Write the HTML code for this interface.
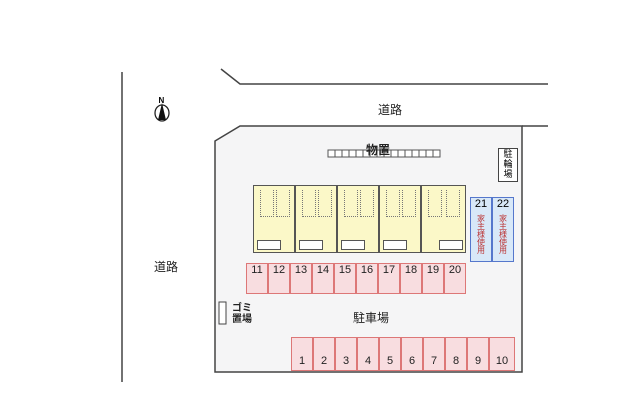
<!DOCTYPE html>
<html><head><meta charset="utf-8"><style>
body{margin:0;background:#fff;width:640px;height:411px;overflow:hidden;position:relative;font-family:"Liberation Sans","Noto Sans CJK JP",sans-serif}
.a{position:absolute}
.t{position:absolute;font-size:11px;color:#222;white-space:nowrap}
.u{position:absolute;top:185px;height:68px;width:42px;background:#fbf8c8;border:1px solid #555;box-sizing:border-box}
.u i{position:absolute;bottom:2px;width:22px;height:8px;background:#fff;border:1px solid #555}
.u b{position:absolute;top:4px;width:12px;height:26px;border:1px dotted #777;border-top:none}
.p{position:absolute;width:22px;background:#f8dde0;border:1px solid #d77;box-sizing:border-box;font-size:11px;text-align:center;color:#222}
.b{position:absolute;top:197px;height:65px;width:22px;background:#d8e8f8;border:1px solid #5577cc;box-sizing:border-box;text-align:center;font-size:11px}
.b span{display:block;writing-mode:vertical-rl;font-size:8px;color:#b33;margin:4px auto 0}
</style></head><body>
<svg class="a" style="left:0;top:0" width="640" height="411">
<line x1="122" y1="72" x2="122" y2="382" stroke="#444" stroke-width="1.5"/>
<polyline points="221,69 240,84 548,84" fill="none" stroke="#444" stroke-width="1.5"/>
<polygon points="215,141 240,126 522,126 522,372 215,372" fill="#f5f5f6" stroke="#444" stroke-width="1.5"/>
<line x1="522" y1="126" x2="548" y2="126" stroke="#444" stroke-width="1.5"/>
<ellipse cx="162" cy="113" rx="7" ry="8" fill="#fff" stroke="#222" stroke-width="1.3"/>
<polygon points="162,103 158,120 166,120" fill="#111"/>
<text x="158.5" y="103" font-size="8" font-family="Liberation Sans" font-weight="bold">N</text>
<rect x="328" y="150" width="112" height="7" fill="#fff" stroke="#555"/>
<g stroke="#555">
<line x1="335" y1="150" x2="335" y2="157"/><line x1="342" y1="150" x2="342" y2="157"/><line x1="349" y1="150" x2="349" y2="157"/><line x1="356" y1="150" x2="356" y2="157"/><line x1="363" y1="150" x2="363" y2="157"/><line x1="370" y1="150" x2="370" y2="157"/><line x1="377" y1="150" x2="377" y2="157"/><line x1="384" y1="150" x2="384" y2="157"/><line x1="391" y1="150" x2="391" y2="157"/><line x1="398" y1="150" x2="398" y2="157"/><line x1="405" y1="150" x2="405" y2="157"/><line x1="412" y1="150" x2="412" y2="157"/><line x1="419" y1="150" x2="419" y2="157"/><line x1="426" y1="150" x2="426" y2="157"/><line x1="433" y1="150" x2="433" y2="157"/>
</g>
<rect x="219" y="302" width="7" height="22" fill="#fff" stroke="#444"/>
</svg>
<div class="t" style="left:378px;top:101px;font-size:12px">道路</div>
<div class="t" style="left:154px;top:258px;font-size:12px">道路</div>
<div class="t" style="left:366px;top:141px;font-weight:bold;font-size:12px">物置</div>
<div class="a" style="left:498px;top:148px;width:18px;height:32px;border:1px solid #444;background:#fff;font-size:9px;line-height:10px;text-align:center">駐<br>輪<br>場</div>
<div class="u" style="left:253px"><b style="left:6px"></b><b style="left:22px"></b><i style="left:3px"></i></div>
<div class="u" style="left:295px"><b style="left:6px"></b><b style="left:22px"></b><i style="left:3px"></i></div>
<div class="u" style="left:337px"><b style="left:6px"></b><b style="left:22px"></b><i style="left:3px"></i></div>
<div class="u" style="left:379px"><b style="left:6px"></b><b style="left:22px"></b><i style="left:3px"></i></div>
<div class="u" style="left:421px;width:45px"><b style="left:6px"></b><b style="left:24px"></b><i style="right:2px"></i></div>
<div class="b" style="left:470px">21<span>家主様使用</span></div>
<div class="b" style="left:492px">22<span>家主様使用</span></div>
<div class="p" style="left:246px;top:263px;height:31px">11</div>
<div class="p" style="left:268px;top:263px;height:31px">12</div>
<div class="p" style="left:290px;top:263px;height:31px">13</div>
<div class="p" style="left:312px;top:263px;height:31px">14</div>
<div class="p" style="left:334px;top:263px;height:31px">15</div>
<div class="p" style="left:356px;top:263px;height:31px">16</div>
<div class="p" style="left:378px;top:263px;height:31px">17</div>
<div class="p" style="left:400px;top:263px;height:31px">18</div>
<div class="p" style="left:422px;top:263px;height:31px">19</div>
<div class="p" style="left:444px;top:263px;height:31px">20</div>
<div class="p" style="left:291px;top:337px;height:34px;padding-top:17px">1</div>
<div class="p" style="left:313px;top:337px;height:34px;padding-top:17px">2</div>
<div class="p" style="left:335px;top:337px;height:34px;padding-top:17px">3</div>
<div class="p" style="left:357px;top:337px;height:34px;padding-top:17px">4</div>
<div class="p" style="left:379px;top:337px;height:34px;padding-top:17px">5</div>
<div class="p" style="left:401px;top:337px;height:34px;padding-top:17px">6</div>
<div class="p" style="left:423px;top:337px;height:34px;padding-top:17px">7</div>
<div class="p" style="left:445px;top:337px;height:34px;padding-top:17px">8</div>
<div class="p" style="left:467px;top:337px;height:34px;padding-top:17px">9</div>
<div class="p" style="left:489px;top:337px;height:34px;width:26px;padding-top:17px">10</div>
<div class="t" style="left:232px;top:303px;font-size:10px;line-height:11px;font-weight:bold">ゴミ<br>置場</div>
<div class="t" style="left:353px;top:309px;font-size:12px">駐車場</div>
</body></html>
